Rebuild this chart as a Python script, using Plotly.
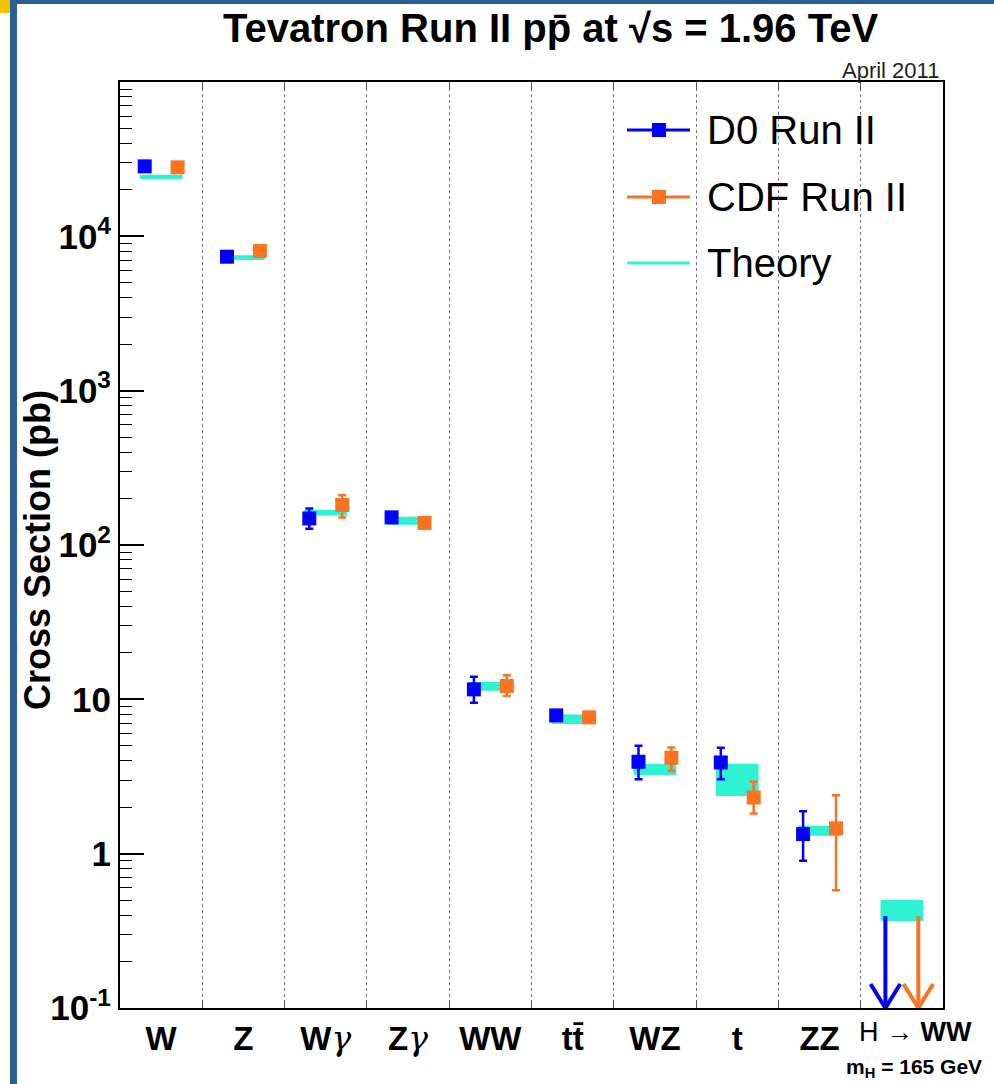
import plotly.graph_objects as go

# ---- measured cross sections (pb) ----
categories = ["W", "Z", "Wγ", "Zγ", "WW", "tt̄", "WZ", "t", "ZZ", "H → WW"]

d0_val = [28400, 7380, 148.6, 151, 11.6, 7.87, 3.94, 3.90, 1.34]
d0_err_up = [800, 250, 24, 10, 2.4, 0.4, 1.06, 0.95, 0.54]
d0_err_dn = [800, 250, 21, 10, 2.1, 0.4, 0.91, 0.86, 0.44]

cdf_val = [28000, 8030, 181.5, 139, 12.2, 7.64, 4.18, 2.31, 1.46]
cdf_err_up = [800, 250, 28.5, 10, 2.1, 0.45, 0.70, 0.61, 0.93]
cdf_err_dn = [800, 250, 30.5, 10, 1.7, 0.45, 0.75, 0.49, 0.88]

# theory predictions (band low / high edges)
theory_lo = [23700, 7100, 157, 137, 11.5, 7.0, 3.27, 2.39, 1.32, 0.37]
theory_hi = [24800, 7450, 167, 151, 12.8, 7.9, 3.78, 3.78, 1.50, 0.495]

# H -> WW (m_H = 165 GeV) 95% CL upper limits
d0_limit_hww = 0.394
cdf_limit_hww = 0.394

# ---- styling ----
BLUE = "#0000ff"
ORANGE = "#fa7322"
TURQ = "#2ef2d2"
FONT = "Liberation Sans"
GAMMA = "<span style='font-family:DejaVu Serif;font-weight:normal'><i>γ</i></span>"

W_FIG, H_FIG = 994, 1084
L, R, T, B = 120, 943, 82, 1008
PW, PH = R - L, B - T


def px_x(px):
    return (px - L) / PW


def px_y(py):
    return (B - py) / PH


def tick_label(s):
    return s.replace("γ", GAMMA)


OFF = 0.2      # D0 / CDF horizontal offset within a category
HALF = 0.25    # half width of theory band

fig = go.Figure()

# theory bands
bx, by = [], []
for i, (lo, hi) in enumerate(zip(theory_lo, theory_hi)):
    bx += [i - HALF, i + HALF, i + HALF, i - HALF, i - HALF, None]
    by += [lo, lo, hi, hi, lo, None]
fig.add_trace(go.Scatter(x=bx, y=by, mode="lines", fill="toself",
                         fillcolor=TURQ, line=dict(color=TURQ, width=1.5),
                         hoverinfo="skip", showlegend=False))

# measurements
n = len(d0_val)
fig.add_trace(go.Scatter(
    x=[i - OFF for i in range(n)], y=d0_val, mode="markers",
    marker=dict(symbol="square", size=14, color=BLUE),
    error_y=dict(type="data", array=d0_err_up, arrayminus=d0_err_dn,
                 color=BLUE, thickness=2.5, width=4),
    showlegend=False))
fig.add_trace(go.Scatter(
    x=[i + OFF for i in range(len(cdf_val))], y=cdf_val, mode="markers",
    marker=dict(symbol="square", size=14, color=ORANGE),
    error_y=dict(type="data", array=cdf_err_up, arrayminus=cdf_err_dn,
                 color=ORANGE, thickness=2.5, width=4),
    showlegend=False))

# upper-limit arrows for H -> WW
YMIN = 0.1
head_y = 10 ** (-1 + 24 / 154.3)
ih = len(categories) - 1
for xc, lim, col in [(ih - OFF, d0_limit_hww, BLUE), (ih + OFF, cdf_limit_hww, ORANGE)]:
    fig.add_trace(go.Scatter(
        x=[xc, xc, None, xc - 0.18, xc, xc + 0.18],
        y=[lim, YMIN, None, head_y, YMIN, head_y],
        mode="lines", line=dict(color=col, width=4),
        cliponaxis=False, hoverinfo="skip", showlegend=False))

minor_y = [m * 10 ** k for k in range(-1, 5) for m in range(2, 10)]

fig.update_layout(
    width=W_FIG, height=H_FIG,
    margin=dict(l=L, r=W_FIG - R, t=T, b=H_FIG - B),
    paper_bgcolor="white", plot_bgcolor="white",
    font=dict(family=FONT, color="black"),
    xaxis=dict(
        range=[-0.5, len(categories) - 0.5],
        tickvals=list(range(len(categories) - 1)),
        ticktext=[tick_label(c) for c in categories[:-1]],
        ticks="", showgrid=False, zeroline=False,
        tickfont=dict(size=33, weight="bold"),
        showline=True, linecolor="black", linewidth=2, mirror="allticks",
        minor=dict(tickvals=[i + 0.5 for i in range(len(categories) - 1)],
                   ticks="inside", ticklen=8, tickcolor="#555",
                   showgrid=True, griddash="dot", gridcolor="#777",
                   gridwidth=1.2),
    ),
    yaxis=dict(
        type="log", range=[-1, 5],
        tickvals=[0.1, 1, 10, 100, 1000, 10000],
        ticktext=["10<sup>-1</sup>", "1", "10", "10<sup>2</sup>",
                  "10<sup>3</sup>", "10<sup>4</sup>"],
        ticks="inside", ticklen=24, tickwidth=1.5, tickcolor="black",
        tickfont=dict(size=35, weight="bold"),
        showgrid=False, zeroline=False,
        showline=True, linecolor="black", linewidth=2, mirror=True,
        minor=dict(tickvals=minor_y, ticks="inside", ticklen=12,
                   tickcolor="black", tickwidth=1.2, showgrid=False),
    ),
)

ann = []
# title and date stamp
ann.append(dict(x=px_x(550), y=px_y(28), xref="paper", yref="paper",
                xanchor="center", yanchor="middle", showarrow=False,
                text="Tevatron Run II pp̄ at √s = 1.96 TeV",
                font=dict(size=40, weight="bold")))
ann.append(dict(x=px_x(941), y=px_y(71), xref="paper", yref="paper",
                xanchor="right", yanchor="middle", showarrow=False,
                text="April 2011", font=dict(size=22, color="#222")))
# y axis title
ann.append(dict(x=px_x(37), y=px_y(550), xref="paper", yref="paper",
                xanchor="center", yanchor="middle", showarrow=False,
                textangle=-90, text="Cross Section (pb)",
                font=dict(size=36, weight="bold")))
# last category label and mass note
ann.append(dict(x=px_x(915), y=px_y(1032), xref="paper", yref="paper",
                xanchor="center", yanchor="middle", showarrow=False,
                text="H → <b>WW</b>", font=dict(size=27)))
ann.append(dict(x=px_x(914), y=px_y(1068), xref="paper", yref="paper",
                xanchor="center", yanchor="middle", showarrow=False,
                text="<b>m<sub>H</sub> = 165 GeV</b>", font=dict(size=21)))

# legend
shapes = []
legend_rows = [("D0 Run II", BLUE, 130, True),
               ("CDF Run II", ORANGE, 197, True),
               ("Theory", TURQ, 263, False)]
for label, col, py, marker in legend_rows:
    shapes.append(dict(type="line", xref="paper", yref="paper",
                       x0=px_x(627), x1=px_x(690), y0=px_y(py), y1=px_y(py),
                       line=dict(color=col, width=3)))
    if marker:
        shapes.append(dict(type="rect", xref="paper", yref="paper",
                           x0=px_x(652), x1=px_x(666),
                           y0=px_y(py + 7), y1=px_y(py - 7),
                           fillcolor=col, line=dict(width=0)))
    ann.append(dict(x=px_x(705), y=px_y(py), xref="paper", yref="paper",
                    xanchor="left", yanchor="middle", showarrow=False,
                    text=label, font=dict(size=40)))

# slide frame decorations
shapes.append(dict(type="rect", xref="paper", yref="paper", layer="above",
                   x0=px_x(10), x1=px_x(W_FIG), y0=px_y(4), y1=px_y(0),
                   fillcolor="#2d5f97", line=dict(width=0)))
shapes.append(dict(type="rect", xref="paper", yref="paper", layer="above",
                   x0=px_x(10), x1=px_x(17), y0=px_y(H_FIG), y1=px_y(0),
                   fillcolor="#2d5f97", line=dict(width=0)))
shapes.append(dict(type="rect", xref="paper", yref="paper", layer="above",
                   x0=px_x(0), x1=px_x(10), y0=px_y(13), y1=px_y(0),
                   fillcolor="#f2c300", line=dict(width=0)))

fig.update_layout(annotations=ann, shapes=shapes)

fig.write_html("out.html")
